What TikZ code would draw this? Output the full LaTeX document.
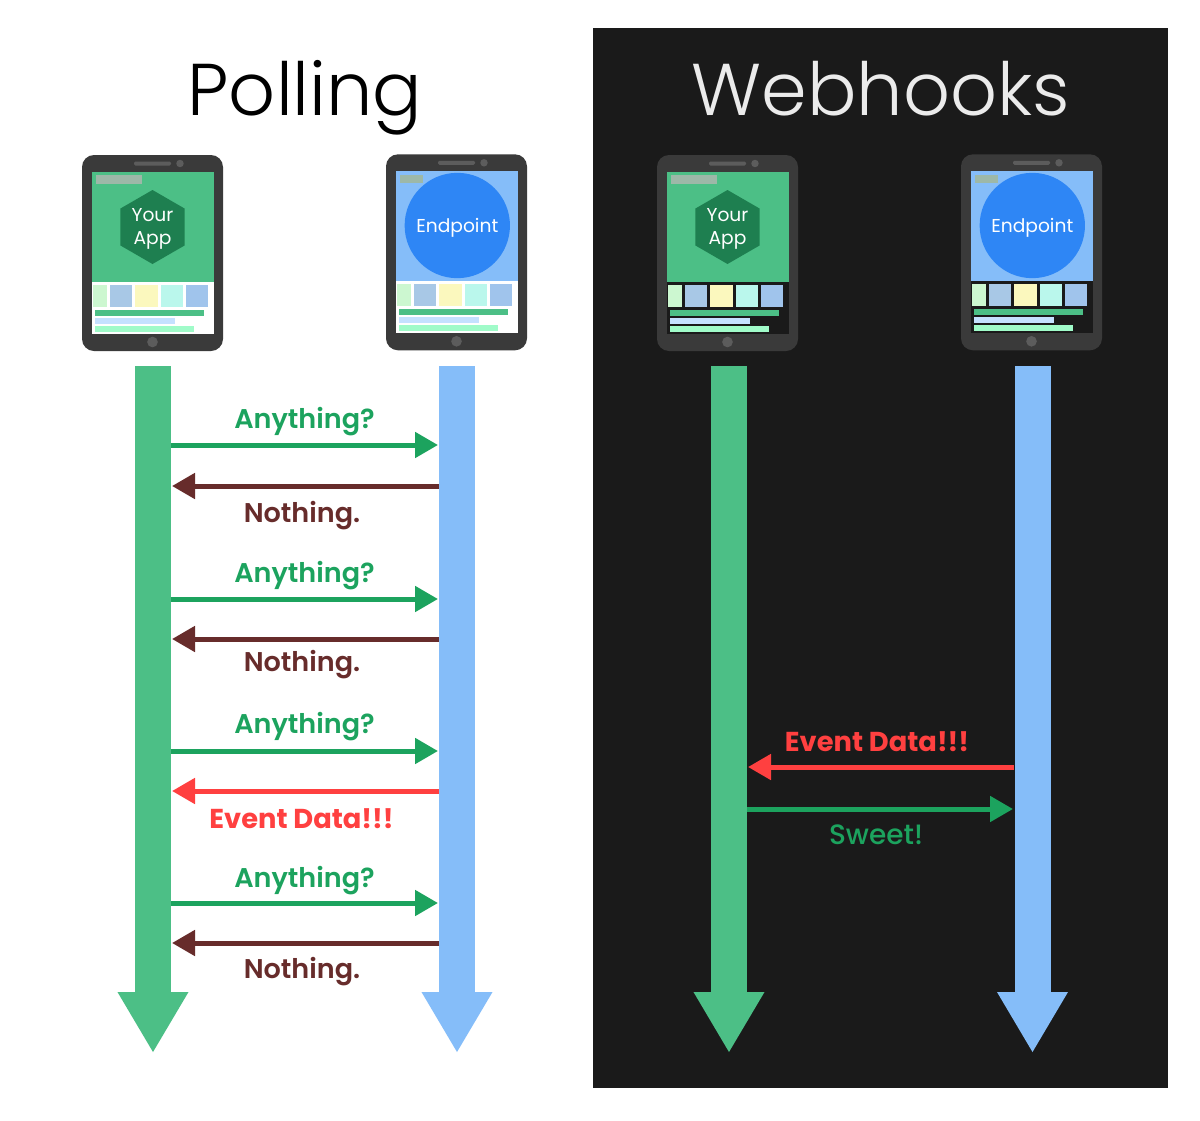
\documentclass[tikz,border=0pt]{standalone}
\usepackage{fontspec}
\setmainfont{Poppins}
\newfontfamily\titlefont{Poppins Light}
\newfontfamily\medfont{Poppins Medium}
\newfontfamily\semifont{Poppins SemiBold}
\newfontfamily\boldfont{Poppins Bold}
\usetikzlibrary{arrows.meta,shapes.geometric}
\definecolor{appgreen}{HTML}{4CBF86}
\definecolor{epblue}{HTML}{85BDF9}
\definecolor{askgreen}{HTML}{1CA35E}
\definecolor{replybrown}{HTML}{672C2B}
\definecolor{eventred}{HTML}{FF4040}
\definecolor{hexgreen}{HTML}{1E7F50}
\definecolor{circblue}{HTML}{2E86F5}
\definecolor{darkpanel}{HTML}{1A1A1A}
\definecolor{tabletgrey}{HTML}{3A3A3A}
\definecolor{speaker}{HTML}{5C5C5C}
\definecolor{thumbA}{HTML}{CCF7D0}
\definecolor{thumbB}{HTML}{A8C8E6}
\definecolor{thumbC}{HTML}{FBF8BE}
\definecolor{thumbD}{HTML}{BAF7EC}
\definecolor{thumbE}{HTML}{A0C4EC}
\definecolor{barB}{HTML}{C5E1FF}
\definecolor{barC}{HTML}{A0FBC9}
\definecolor{chip}{HTML}{9DB8A8}
\tikzset{
  timeline/.style={line width=27pt,-{Triangle[length=45.75pt,width=49.75pt]}},
  msg/.style={line width=3.75pt,-{Triangle[length=17.25pt,width=18.75pt]}},
  msglabel/.style={font=\semifont\fontsize{20.3}{24}\selectfont,inner sep=0pt,anchor=base},
  evtlabel/.style={font=\boldfont\fontsize{20.5}{24}\selectfont,inner sep=0pt,anchor=base},
  sweetlabel/.style={font=\medfont\fontsize{21}{24}\selectfont,inner sep=0pt,anchor=base},
  titletext/.style={font=\titlefont\fontsize{55}{60}\selectfont,inner sep=0pt,anchor=base},
  screenlabel/.style={font=\fontsize{14}{17.5}\selectfont,text=white,inner sep=0pt,align=center},
}
% #1 dx, #2 dy, #3 lower screen colour, #4 upper screen colour
\newcommand{\tabletbase}[4]{%
  \begin{scope}[shift={(#1,#2)}]
    \fill[tabletgrey,rounded corners=9pt] (82,155) rectangle (223,351);
    \fill[speaker,rounded corners=1pt] (134,161.5) rectangle (171,165.5);
    \fill[speaker] (180,163.5) circle[radius=2.8pt];
    \fill[speaker] (152.5,342) circle[radius=4pt];
    \fill[#3] (92,172) rectangle (214,334);
    \fill[#4] (92,172) rectangle (214,282);
    \fill[thumbA] (93,285) rectangle (107,307);
    \fill[thumbB] (110,285) rectangle (132,307);
    \fill[thumbC] (135,285) rectangle (158,307);
    \fill[thumbD] (161,285) rectangle (183,307);
    \fill[thumbE] (186,285) rectangle (208,307);
    \fill[appgreen] (95,310) rectangle (204,316);
    \fill[barB] (95,318) rectangle (175,324);
    \fill[barC] (95,325.5) rectangle (194,331.5);
  \end{scope}}
\newcommand{\appscreen}[3]{%
  \begin{scope}[shift={(#1,#2)}]
    \fill[chip] (96,175) rectangle (142,184);
    \node[regular polygon,regular polygon sides=6,shape border rotate=30,fill=hexgreen,minimum size=55.5pt,inner sep=0pt] (#3hex) at (152.5,227) {};
    \node[screenlabel] (#3label) at (152.5,229) {Your\\App};
  \end{scope}}
\newcommand{\epscreen}[3]{%
  \begin{scope}[shift={(#1,#2)}]
    \node[circle,fill=circblue,minimum size=79pt,inner sep=0pt] (#3circle) at (153.3,225.5) {};
    \fill[chip] (96,175) rectangle (119,183);
    \node[screenlabel] (#3label) at (153.3,228) {Endpoint};
  \end{scope}}
\begin{document}
\begin{tikzpicture}[x=0.75pt,y=-0.75pt]
\useasboundingbox (0,0) rectangle (1200,1121);
\fill[white] (0,0) rectangle (1200,1121);
\fill[darkpanel] (593,28) rectangle (1168,1088);

\node[titletext] (polltitle) at (305,115) {Polling};
\node[titletext,text=white!92!black] (webtitle) at (881,115) {Webhooks};

\tabletbase{0}{0}{white}{appgreen}
\appscreen{0}{0}{pa}
\tabletbase{304}{-0.7}{white}{epblue}
\epscreen{304}{0}{pe}
\tabletbase{575}{0}{darkpanel}{appgreen}
\appscreen{575}{0}{wa}
\tabletbase{879}{-0.7}{darkpanel}{epblue}
\epscreen{879}{0}{we}

% timelines
\coordinate (pappTop) at (153,366);  \coordinate (pappEnd) at (153,1053);
\coordinate (pepTop) at (457,366);   \coordinate (pepEnd) at (457,1053);
\coordinate (wappTop) at (729,366);  \coordinate (wappEnd) at (729,1053);
\coordinate (wepTop) at (1032.5,366);\coordinate (wepEnd) at (1032.5,1053);
\draw[timeline,appgreen] (pappTop) -- (pappEnd);
\draw[timeline,epblue] (pepTop) -- (pepEnd);
\draw[timeline,appgreen] (wappTop) -- (wappEnd);
\draw[timeline,epblue] (wepTop) -- (wepEnd);

% polling messages
\foreach \n/\ya/\yb in {1/445/486,2/599/639,3/751/791,4/903/943}{
  \coordinate (qs\n) at (171,\ya); \coordinate (qe\n) at (438,\ya);
  \coordinate (rs\n) at (439,\yb); \coordinate (re\n) at (172,\yb);
  \draw[msg,askgreen] (qs\n) -- (qe\n);
}
\draw[msg,replybrown] (rs1) -- (re1);
\draw[msg,replybrown] (rs2) -- (re2);
\draw[msg,eventred] (rs3) -- (re3);
\draw[msg,replybrown] (rs4) -- (re4);

\node[msglabel,text=askgreen] (any1) at (304.5,428) {Anything?};
\node[msglabel,text=replybrown] (not1) at (302,522) {Nothing.};
\node[msglabel,text=askgreen] (any2) at (304.5,582) {Anything?};
\node[msglabel,text=replybrown] (not2) at (302,671) {Nothing.};
\node[msglabel,text=askgreen] (any3) at (304.5,733) {Anything?};
\node[evtlabel,text=eventred] (evt1) at (301.5,828) {Event Data!!!};
\node[msglabel,text=askgreen] (any4) at (304.5,887) {Anything?};
\node[msglabel,text=replybrown] (not3) at (302,978) {Nothing.};

% webhook messages
\coordinate (ws) at (1014,767); \coordinate (we) at (748,767);
\coordinate (ss) at (747,809);  \coordinate (se) at (1013,809);
\draw[msg,eventred] (ws) -- (we);
\draw[msg,askgreen] (ss) -- (se);
\node[evtlabel,text=eventred] (evt2) at (877,751) {Event Data!!!};
\node[sweetlabel,text=askgreen] (sweet) at (876,844) {Sweet!};
\end{tikzpicture}
\end{document}
